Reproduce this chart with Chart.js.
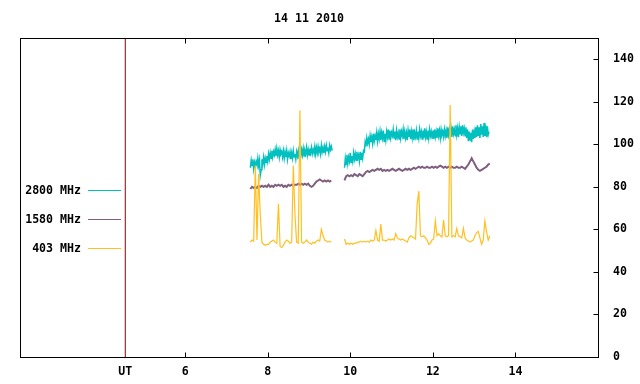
<!DOCTYPE html>
<html lang="en">
<head>
    <meta charset="UTF-8">
    <title>14 11 2010</title>
    <script src="https://cdn.jsdelivr.net/npm/chart.js"></script>
    <style>
        body {
            margin: 0;
            background-color: #fff;
        }
    </style>
</head>
<body>
    <canvas id="fluxChart" width="640" height="384"></canvas>
    <script>
        // du lieu
        const chartTitle = '14 11 2010';
        const seriesNames = ['2800 MHz', '1580 MHz', '403 MHz'];
        const xTickValues = [4.55, 6, 8, 10, 12, 14];
        const utHour = 4.55;
        const yTickValues = [0, 20, 40, 60, 80, 100, 120, 140];

        // hai doan do, gio UT bat dau
        const seg1Start = 7.58;
        const seg2Start = 9.86;
        const sampleStep = 0.04;   // 1580 / 403 MHz
        const fineStep = 0.02;     // 2800 MHz

        const flux2800a = [
            89, 92.5, 90, 93, 88.5, 91.5, 89.5, 92, 90.5, 93.5,
            90, 92.5, 85.5, 88, 93, 91, 94, 90.5, 93.5, 91.5,
            94.5, 92, 95.5, 93, 96, 93.5, 97, 94, 96.5, 95,
            97.5, 94.5, 98, 95, 97, 94, 97.5, 95.5, 96.5, 94,
            97, 93.5, 96.5, 94, 97, 93, 96, 94.5, 96.5, 93,
            96, 93.5, 97, 94, 95.5, 93, 96.5, 94.5, 97, 93.5,
            96.5, 94.5, 97.5, 95, 98, 94.5, 97, 95.5, 98.5, 95,
            97.5, 95, 98, 96, 98.5, 95.5, 97.5, 96, 99, 95.5,
            98.5, 96, 99, 96.5, 98, 95.5, 99.5, 96.5, 98.5, 96,
            99, 96.5, 99.5, 97, 98.5, 96, 99.5, 97.5, 99, 97];
        const flux2800b = [
            89, 93.5, 90.5, 95, 91, 94, 92, 96, 91.5, 94.5,
            92, 96, 93, 95.5, 92.5, 96.5, 93.5, 95, 92, 96.5,
            93, 96, 93.5, 97, 96.5, 101, 99, 103, 100.5, 102.5,
            100, 104, 101, 103.5, 100.5, 105, 101.5, 104, 102, 105.5,
            101.5, 105, 102.5, 106, 102, 105.5, 103, 106.5, 101.5, 105,
            102, 106, 103.5, 107, 102.5, 106.5, 103, 105.5, 104, 107,
            103, 106, 102, 106.5, 103.5, 105.5, 102.5, 107, 103, 106,
            104, 107, 102.5, 106, 103, 105.5, 102, 106.5, 103.5, 107,
            102.5, 106, 103, 107, 102, 105.5, 103.5, 106.5, 102.5, 106,
            103, 107, 104, 106, 102.5, 106.5, 103, 107.5, 103.5, 106,
            102.5, 106.5, 103, 107, 104, 106, 103, 106.5, 102.5, 107,
            103.5, 106, 103, 107.5, 104, 106.5, 103, 107, 104.5, 106,
            103.5, 107, 104, 106.5, 103, 108, 104.5, 107, 104, 107.5,
            103.5, 108.5, 105, 107, 104, 109, 104.5, 107.5, 103.5, 108,
            105, 108.5, 104, 109, 105.5, 107.5, 104, 108, 103, 107,
            101.5, 106, 102, 105.5, 101, 107, 102.5, 106, 103, 108,
            103.5, 109, 104, 108, 103, 109.5, 104.5, 108.5, 103.5, 110,
            104, 109, 103.5, 108.5, 104.5, 106];

        const flux1580a = [79, 80, 79.5, 80, 79.5, 80.5, 80, 80.5, 80, 80.5, 80, 81, 80, 80.5, 80, 81, 80.5, 81, 80.5, 81,
            80, 80.5, 80, 81, 80.5, 81, 80.5, 81, 81, 81.5, 81, 81.5, 81, 81.5, 81, 81.5, 80.5, 80, 80.5, 81.5,
            82.5, 83, 83.5, 83, 82.5, 83, 82.5, 83, 82.5, 83];
        const flux1580b = [83, 85, 85.5, 85, 85.5, 85, 86, 85.5, 85, 86, 85.5, 85, 86, 87, 87.5, 87, 87.5, 88, 87.5, 88,
            88.5, 88, 88.5, 87.5, 88, 87.5, 88, 87.5, 88, 88.5, 88, 87.5, 88, 88.5, 88, 87.5, 88, 88.5, 88, 88.5,
            88, 88.5, 89, 88.5, 89, 89.5, 89, 89.5, 89, 89, 89.5, 89, 89, 89.5, 89, 89.5, 89, 89.5, 90, 89.5,
            89, 89.5, 89, 89.5, 89, 89.5, 89, 89, 89.5, 89, 89, 89.5, 89, 88.5, 89.5, 90.5, 92, 93.5, 92, 90.5,
            89, 88, 87.5, 88, 88.5, 89, 89.5, 90.5, 91];

        const flux403a = [54, 55, 54.5, 90, 55, 86, 67, 54, 53, 52.5, 53, 53, 54, 54.5, 55, 54, 53.5, 72, 52, 51.5,
            52.5, 54, 55, 54.5, 53.5, 54, 90, 67, 54, 53.5, 116, 54, 53.5, 54, 55, 54, 53.5, 53, 54, 53.5,
            54.5, 55, 54.5, 60, 57, 55, 54.5, 54, 54.5, 54];
        const flux403b = [55.5, 53, 53.5, 53, 53.5, 53, 53.5, 53.5, 54, 54, 54.5, 54, 54.5, 54, 54.5, 54, 55, 54.5, 55, 59.5,
            55, 54.5, 62.5, 55, 55, 54.5, 55, 55.5, 55, 55.5, 55, 58, 56, 55.5, 55, 55.5, 55, 54.5, 54, 56,
            57, 56.5, 56, 55.5, 72, 78, 57, 56.5, 57, 56, 55, 53, 53.5, 55, 55.5, 64, 57, 58, 57, 56.5,
            64.5, 57, 56.5, 57, 118.5, 56.5, 57, 56.5, 60.5, 57, 56.5, 56, 60.5, 56, 55, 54.5, 54, 54.5, 55, 57,
            58.5, 59, 56, 53, 55, 64, 59, 55, 57];

        const colors = ['#00c0c0', '#7f5f7f', '#ffc020'];

        // ghep 2 doan, chen null de ngat duong
        function buildSeries(valsA, valsB, step) {
            const pts = [];
            valsA.forEach((v, i) => pts.push({ x: +(seg1Start + i * step).toFixed(2), y: v }));
            pts.push({ x: 9.7, y: null });
            valsB.forEach((v, i) => pts.push({ x: +(seg2Start + i * step).toFixed(2), y: v }));
            return pts;
        }

        const monoFont = "'DejaVu Sans Mono', monospace";

        // khung, vach chia huong vao trong, tieu de va chu thich
        const framePlugin = {
            id: 'frame',
            afterDraw(chart) {
                const ctx = chart.ctx;
                const a = chart.chartArea;
                const xs = chart.scales.x;
                const ys = chart.scales.y;
                const l = Math.round(a.left) + 0.5, r = Math.round(a.right) + 0.5;
                const t = Math.round(a.top) + 0.5, b = Math.round(a.bottom) + 0.5;
                ctx.save();
                ctx.strokeStyle = '#000';
                ctx.lineWidth = 1;
                ctx.strokeRect(l, t, r - l, b - t);
                ctx.beginPath();
                xTickValues.forEach(v => {
                    if (v === utHour) return;
                    const px = Math.round(xs.getPixelForValue(v)) + 0.5;
                    ctx.moveTo(px, b); ctx.lineTo(px, b - 5);
                    ctx.moveTo(px, t); ctx.lineTo(px, t + 5);
                });
                yTickValues.forEach(v => {
                    const py = Math.round(ys.getPixelForValue(v)) + 0.5;
                    ctx.moveTo(r, py); ctx.lineTo(r - 5, py);
                });
                ctx.stroke();

                ctx.fillStyle = '#000';
                ctx.font = 'bold 11.6px ' + monoFont;
                ctx.textAlign = 'center';
                ctx.textBaseline = 'middle';
                ctx.fillText(chartTitle, (a.left + a.right) / 2, 19);

                ctx.textAlign = 'right';
                seriesNames.forEach((name, i) => {
                    const y = 190 + i * 29;
                    ctx.fillStyle = '#000';
                    ctx.fillText(name, 81, y + 1);
                    ctx.strokeStyle = colors[i];
                    ctx.beginPath();
                    ctx.moveTo(88, y + 0.5);
                    ctx.lineTo(121, y + 0.5);
                    ctx.stroke();
                });
                ctx.restore();
            }
        };

        new Chart(document.getElementById('fluxChart'), {
            type: 'line',
            data: {
                datasets: [
                    { label: seriesNames[2], data: buildSeries(flux403a, flux403b, sampleStep), borderColor: colors[2], borderWidth: 1.2, order: 0 },
                    { label: seriesNames[1], data: buildSeries(flux1580a, flux1580b, sampleStep), borderColor: colors[1], borderWidth: 2, order: 1 },
                    { label: seriesNames[0], data: buildSeries(flux2800a, flux2800b, fineStep), borderColor: colors[0], borderWidth: 1.5, order: 2 },
                    { label: 'UT', data: [{ x: utHour, y: 0 }, { x: utHour, y: 150 }], borderColor: '#8b0000', borderWidth: 1, order: 3 }
                ]
            },
            options: {
                responsive: false,
                animation: false,
                spanGaps: false,
                layout: { padding: { top: 38, left: 20 } },
                elements: { point: { radius: 0 }, line: { tension: 0 } },
                plugins: { legend: { display: false }, tooltip: { enabled: false }, title: { display: false } },
                scales: {
                    x: {
                        type: 'linear',
                        min: 2,
                        max: 16,
                        grid: { display: false },
                        border: { display: false },
                        afterBuildTicks: s => { s.ticks = xTickValues.map(v => ({ value: v })); },
                        afterFit: s => { s.height = 27; },
                        ticks: {
                            padding: 0,
                            maxRotation: 0,
                            color: '#000',
                            font: { family: monoFont, size: 11.6, weight: 'bold' },
                            callback: v => (v === utHour ? 'UT' : v)
                        }
                    },
                    y: {
                        position: 'right',
                        min: 0,
                        max: 150,
                        grid: { display: false },
                        border: { display: false },
                        afterBuildTicks: s => { s.ticks = yTickValues.map(v => ({ value: v })); },
                        afterFit: s => { s.width = 42; },
                        ticks: {
                            padding: 7,
                            color: '#000',
                            font: { family: monoFont, size: 11.6, weight: 'bold' }
                        }
                    }
                }
            },
            plugins: [framePlugin]
        });
    </script>
</body>
</html>
